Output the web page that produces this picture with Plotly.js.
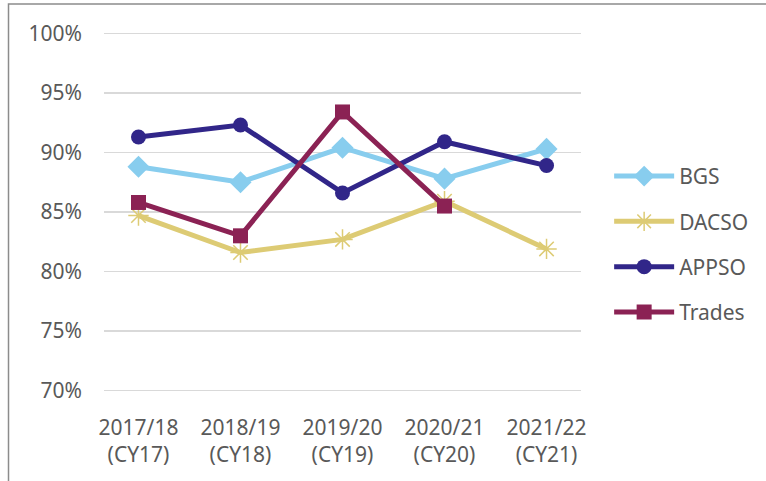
<!DOCTYPE html>
<html>
<head>
<meta charset="utf-8">
<script src="https://cdn.plot.ly/plotly-3.0.1.min.js"></script>
<style>html,body{margin:0;padding:0;background:#fff;}#chart{width:766px;height:481px;}</style>
</head>
<body>
<div id="chart"></div>
<script>
const categories = ["2017/18<br>(CY17)", "2018/19<br>(CY18)", "2019/20<br>(CY19)", "2020/21<br>(CY20)", "2021/22<br>(CY21)"];
const seriesNames = ["BGS", "DACSO", "APPSO", "Trades"];
const bgs = [88.8, 87.5, 90.4, 87.8, 90.3];
const dacso = [84.7, 81.6, 82.7, 85.9, 81.9];
const appso = [91.3, 92.3, 86.6, 90.9, 88.9];
const trades = [85.8, 83.0, 93.4, 85.5, null];
const yTicks = [70, 75, 80, 85, 90, 95, 100];
const yTickText = yTicks.map(v => v + "%");

const colors = ["#88CDEE", "#DDCB74", "#312689", "#8B2254"];
const symbols = ["diamond", "asterisk-open", "circle", "square"];
const sizes = [17, 17, 15, 15];
const values = [bgs, dacso, appso, trades];

const traces = values.map((vals, i) => ({
  type: "scatter",
  mode: "lines+markers",
  x: categories,
  y: vals,
  name: seriesNames[i],
  legendgroup: seriesNames[i],
  connectgaps: false,
  line: {color: colors[i], width: 5},
  marker: {symbol: symbols[i], size: sizes[i], color: colors[i],
           line: {color: colors[i], width: symbols[i] === "asterisk-open" ? 1.5 : 0}},
  hoverinfo: "skip"
}));

const font = {family: "Noto Sans, Open Sans, sans-serif", size: 21, color: "#595959"};

const layout = {
  width: 766, height: 481,
  margin: {l: 104, r: 185, t: 31.1, b: 87.6},
  paper_bgcolor: "#fff", plot_bgcolor: "#fff",
  font: font,
  showlegend: true,
  legend: {
    x: 1.059, xanchor: "left", y: 0.655, yanchor: "top",
    traceorder: "grouped", tracegroupgap: 15,
    itemwidth: 60, font: font, bgcolor: "rgba(0,0,0,0)"
  },
  xaxis: {
    type: "category",
    tickfont: font,
    showgrid: false, zeroline: false, showline: false, ticks: "",
    ticklabelstandoff: 20
  },
  yaxis: {
    range: [69.8, 100.2],
    tickvals: yTicks, ticktext: yTickText,
    tickfont: font,
    showgrid: true, gridcolor: "#D9D9D9", gridwidth: 1.5,
    zeroline: false, showline: false, ticks: "",
    ticklabelstandoff: 21
  },
  shapes: [{
    type: "rect", xref: "paper", yref: "paper",
    x0: -0.2002, x1: 1.40, y0: -0.27, y1: 1.0748,
    line: {color: "#8C8C8C", width: 1.5}, fillcolor: "rgba(0,0,0,0)", layer: "below"
  }]
};

Plotly.newPlot("chart", traces, layout, {displayModeBar: false, staticPlot: true});
</script>
</body>
</html>
